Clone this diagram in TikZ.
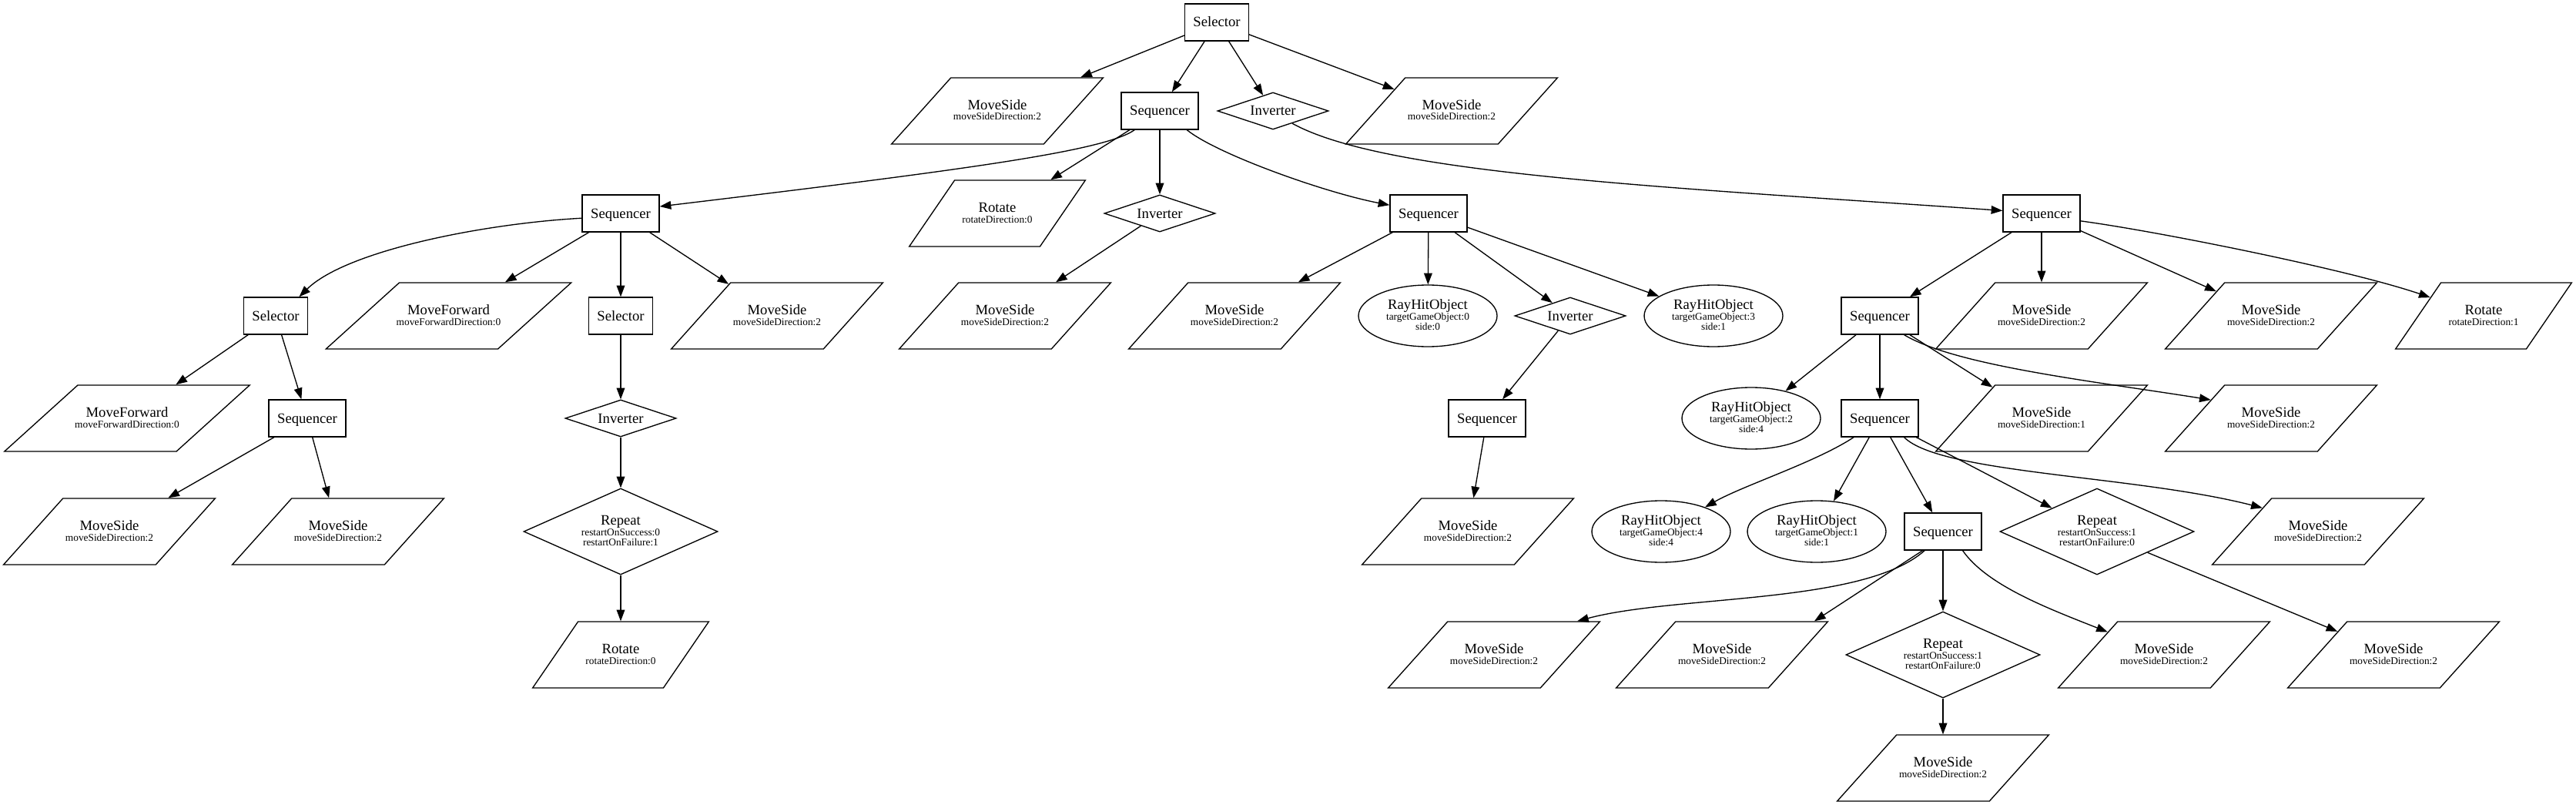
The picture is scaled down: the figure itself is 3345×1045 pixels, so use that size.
\documentclass[tikz,border=0pt]{standalone}
\usepackage{fontspec}
\setmainfont{Liberation Serif}
\usetikzlibrary{shapes.geometric,arrows.meta,calc}
\tikzset{
  shp/.style={draw, line width=1pt, inner sep=0pt},
  boxn/.style={shp, rectangle, minimum height=36pt},
  dia/.style={shp, diamond, minimum width=108pt, minimum height=36pt},
  repd/.style={shp, diamond, minimum width=189pt, minimum height=84pt},
  ell/.style={shp, ellipse, minimum width=135pt, minimum height=60pt},
  para/.style={shp, trapezium, trapezium stretches=true, inner sep=4pt, minimum height=64.5pt},
  msP/.style={para, trapezium left angle=57.4, trapezium right angle=122.6, minimum width=206.25pt},
  rotP/.style={para, trapezium left angle=62, trapezium right angle=118, minimum width=171.75pt},
  mfP/.style={para, trapezium left angle=53.4, trapezium right angle=126.6, minimum width=239.25pt},
  mtxt/.style={anchor=base, inner sep=0pt, font=\fontsize{14}{16}\selectfont},
  stxt/.style={anchor=base, inner sep=0pt, font=\fontsize{10}{12}\selectfont},
  edge/.style={line width=1pt, -{Triangle[length=11pt,width=8pt]}},
}
\newcommand\mkBox[5]{\node[boxn,minimum width=#4] (#1) at (#2,#3) {}; \node[mtxt] (#1m) at (#2,#3+6) {#5};}
\newcommand\mkDia[4]{\node[dia] (#1) at (#2,#3) {}; \node[mtxt] (#1m) at (#2,#3+6) {#4};}
\newcommand\mkPar[6]{\node[#4] (#1) at (#2,#3) {}; \node[mtxt] (#1m) at (#2,#3-1.8) {#5}; \node[stxt] (#1s) at (#2,#3+12) {#6};}
\newcommand\mkEll[6]{\node[ell] (#1) at (#2,#3) {}; \node[mtxt] (#1m) at (#2,#3-8.3) {#4}; \node[stxt] (#1s) at (#2,#3+5.5) {#5}; \node[stxt] (#1u) at (#2,#3+18) {#6};}
\newcommand\mkRep[6]{\node[repd] (#1) at (#2,#3) {}; \node[mtxt] (#1m) at (#2,#3-8.3) {#4}; \node[stxt] (#1s) at (#2,#3+5.5) {#5}; \node[stxt] (#1u) at (#2,#3+18) {#6};}
\begin{document}
\begin{tikzpicture}[x=0.75pt,y=-0.75pt]
\useasboundingbox (0,0) rectangle (3345,1045);
% row 1
\mkBox{root}{1580}{29}{62pt}{Selector}
% row 2
\mkPar{ms1}{1295}{144}{msP}{MoveSide}{moveSideDirection:2}
\mkBox{seqA}{1506}{144}{75pt}{Sequencer}
\mkDia{invA}{1653}{144}{Inverter}
\mkPar{ms2}{1885}{144}{msP}{MoveSide}{moveSideDirection:2}
% row 3
\mkBox{seqC}{806}{277}{75pt}{Sequencer}
\mkPar{rot1}{1295}{277}{rotP}{Rotate}{rotateDirection:0}
\mkDia{invB}{1506}{277}{Inverter}
\mkBox{seqB}{1855}{277}{75pt}{Sequencer}
\mkBox{seqF}{2651}{277}{75pt}{Sequencer}
% row 4
\mkBox{sel2}{358}{410}{62pt}{Selector}
\mkPar{mf1}{582.5}{410}{mfP}{MoveForward}{moveForwardDirection:0}
\mkBox{sel3}{806}{410}{62pt}{Selector}
\mkPar{ms3}{1009}{410}{msP}{MoveSide}{moveSideDirection:2}
\mkPar{ms4}{1305}{410}{msP}{MoveSide}{moveSideDirection:2}
\mkPar{ms5}{1603}{410}{msP}{MoveSide}{moveSideDirection:2}
\mkEll{rh0}{1854}{410}{RayHitObject}{targetGameObject:0}{side:0}
\mkDia{invC}{2039}{410}{Inverter}
\mkEll{rh3}{2225}{410}{RayHitObject}{targetGameObject:3}{side:1}
\mkBox{seqG}{2441}{410}{75pt}{Sequencer}
\mkPar{ms6}{2651}{410}{msP}{MoveSide}{moveSideDirection:2}
\mkPar{ms7}{2949}{410}{msP}{MoveSide}{moveSideDirection:2}
\mkPar{rot2}{3225}{410}{rotP}{Rotate}{rotateDirection:1}
% row 5
\mkPar{mf2}{165}{543}{mfP}{MoveForward}{moveForwardDirection:0}
\mkBox{seqD}{399}{543}{75pt}{Sequencer}
\mkDia{invD}{806}{543}{Inverter}
\mkBox{seqE}{1931}{543}{75pt}{Sequencer}
\mkEll{rh2}{2274}{543}{RayHitObject}{targetGameObject:2}{side:4}
\mkBox{seqH}{2441}{543}{75pt}{Sequencer}
\mkPar{ms8}{2651}{543}{msP}{MoveSide}{moveSideDirection:1}
\mkPar{ms9}{2949}{543}{msP}{MoveSide}{moveSideDirection:2}
% row 6
\mkPar{ms10}{142}{690}{msP}{MoveSide}{moveSideDirection:2}
\mkPar{ms11}{439}{690}{msP}{MoveSide}{moveSideDirection:2}
\mkRep{rep1}{806}{690}{Repeat}{restartOnSuccess:0}{restartOnFailure:1}
\mkPar{ms12}{1906}{690}{msP}{MoveSide}{moveSideDirection:2}
\mkEll{rh4}{2157}{690}{RayHitObject}{targetGameObject:4}{side:4}
\mkEll{rh1}{2359}{690}{RayHitObject}{targetGameObject:1}{side:1}
\mkBox{seqI}{2523}{690}{75pt}{Sequencer}
\mkRep{rep2}{2723}{690}{Repeat}{restartOnSuccess:1}{restartOnFailure:0}
\mkPar{ms13}{3010}{690}{msP}{MoveSide}{moveSideDirection:2}
% row 7
\mkPar{rot3}{806}{850}{rotP}{Rotate}{rotateDirection:0}
\mkPar{ms14}{1940}{850}{msP}{MoveSide}{moveSideDirection:2}
\mkPar{ms15}{2236}{850}{msP}{MoveSide}{moveSideDirection:2}
\mkRep{rep3}{2523}{850}{Repeat}{restartOnSuccess:1}{restartOnFailure:0}
\mkPar{ms16}{2810}{850}{msP}{MoveSide}{moveSideDirection:2}
\mkPar{ms17}{3108}{850}{msP}{MoveSide}{moveSideDirection:2}
% row 8
\mkPar{ms18}{2523}{997}{msP}{MoveSide}{moveSideDirection:2}
% straight edges
\foreach \a/\b in {root/ms1, root/seqA, root/invA, root/ms2,
  seqA/rot1, seqA/invB, invB/ms4,
  seqC/mf1, seqC/sel3, seqC/ms3,
  sel2/mf2, sel2/seqD, seqD/ms10, seqD/ms11,
  sel3/invD, invD/rep1, rep1/rot3,
  seqB/ms5, seqB/rh0, seqB/invC, seqB/rh3,
  invC/seqE, seqE/ms12,
  seqF/seqG, seqF/ms6, seqF/ms7,
  seqG/rh2, seqG/seqH, seqG/ms8,
  seqH/rh1, seqH/seqI, seqH/rep2,
  seqI/rep3, rep3/ms18, rep2/ms17}
  \draw[edge] (\a) -- (\b);
% curved edges
\draw[edge] (seqA.217) .. controls (1434,196) and (1257,220) .. (seqC.10);
\draw[edge] (seqA.-35) .. controls (1580,200) and (1720,250) .. (seqB.168);
\draw[edge] (invA.-33) .. controls (1798,226) and (2150,242) .. (seqF.176);
\draw[edge] (seqC.187) .. controls (630,290) and (450,325) .. (sel2.39);
\draw[edge] (seqF.-11) .. controls (2800,300) and (3050,350) .. (rot2.161);
\draw[edge] (seqG.-38) .. controls (2540,475) and (2720,495) .. (ms9.163);
\draw[edge] (seqH.216) .. controls (2358,600) and (2264,630) .. (rh4.29);
\draw[edge] (seqH.-38) .. controls (2520,615) and (2773,617) .. (ms13.157);
\draw[edge] (seqI.226) .. controls (2420,785) and (2177,772) .. (ms14.22);
\draw[edge] (seqI.223) -- (ms15.20);
\draw[edge] (seqI.-44) .. controls (2580,760) and (2660,790) .. (ms16.158);
\end{tikzpicture}
\end{document}
